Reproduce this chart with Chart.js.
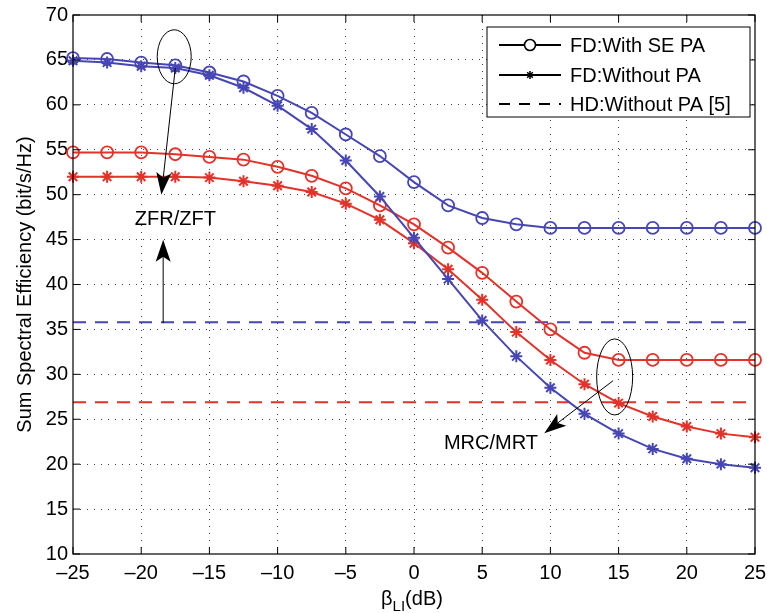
<!DOCTYPE html>
<html>
<head>
<meta charset="utf-8">
<title>Sum Spectral Efficiency vs beta_LI</title>
<script src="https://cdn.jsdelivr.net/npm/chart.js@4/dist/chart.umd.min.js"></script>
<style>
	html, body { margin: 0; padding: 0; background: #fff; }
	canvas { display: block; }
</style>
</head>
<body>
<canvas id="chart" width="767" height="613"></canvas>
<script>

//chart values
var betaLI = [-25, -22.5, -20, -17.5, -15, -12.5, -10, -7.5, -5, -2.5, 0, 2.5, 5, 7.5, 10, 12.5, 15, 17.5, 20, 22.5, 25];
var zfWithSePa = [65.2, 65.1, 64.7, 64.4, 63.6, 62.6, 61.0, 59.1, 56.7, 54.3, 51.4, 48.8, 47.4, 46.7, 46.3, 46.3, 46.3, 46.3, 46.3, 46.3, 46.3];
var zfWithoutPa = [64.9, 64.7, 64.3, 64.1, 63.3, 61.9, 59.9, 57.3, 53.8, 49.8, 45.2, 40.6, 36.0, 32.0, 28.5, 25.6, 23.4, 21.7, 20.6, 20.0, 19.6];
var mrcWithSePa = [54.7, 54.7, 54.7, 54.5, 54.2, 53.9, 53.1, 52.1, 50.7, 48.8, 46.7, 44.1, 41.3, 38.1, 35.0, 32.4, 31.6, 31.6, 31.6, 31.6, 31.6];
var mrcWithoutPa = [52.0, 52.0, 52.0, 52.0, 51.9, 51.5, 51.0, 50.3, 49.0, 47.2, 44.6, 41.7, 38.3, 34.7, 31.6, 28.9, 26.8, 25.3, 24.2, 23.4, 23.0];
var hdZfWithoutPa = 35.8;
var hdMrcWithoutPa = 26.9;

//tick labels
var xTicks = [-25, -20, -15, -10, -5, 0, 5, 10, 15, 20, 25];
var yTicks = [10, 15, 20, 25, 30, 35, 40, 45, 50, 55, 60, 65, 70];
var legendLabels = ['FD:With SE PA', 'FD:Without PA', 'HD:Without PA [5]'];

var BLUE = '#4646b4',
	RED = '#e3322a',
	FONT = '"Liberation Sans", Arial, Helvetica, sans-serif';

function toPoints( values ) {
	return betaLI.map(function( x, i ) {
		return { x: x, y: values[i] };
	});
}

function flatLine( value ) {
	return [ { x: betaLI[0], y: value }, { x: betaLI[betaLI.length - 1], y: value } ];
}

function withDash( value ) {
	//matlab style minus
	return String(value).replace('-', '\u2013');
}

function curve( values, color, marker ) {
	return {
		data: toPoints(values),
		borderColor: color,
		borderWidth: 2,
		pointStyle: marker,
		pointRadius: 6,
		pointBorderWidth: marker === 'star' ? 2 : 1.8,
		pointBorderColor: color,
		pointBackgroundColor: 'rgba(0,0,0,0)',
		tension: 0,
		clip: false
	};
}

function dashed( value, color ) {
	return {
		data: flatLine(value),
		borderColor: color,
		borderWidth: 2,
		borderDash: [13, 9],
		pointRadius: 0,
		tension: 0,
		clip: false
	};
}

function edgeGrid( ctx ) {
	var v = ctx.tick ? ctx.tick.value : null;
	var scale = ctx.scale;
	if ( v === scale.min || v === scale.max ) return 'rgba(0,0,0,0)';
	return '#444';
}

function drawArrow( ctx, x1, y1, x2, y2 ) {
	var ang = Math.atan2(y2 - y1, x2 - x1),
		len = 22, half = 7.5, notch = 17;
	ctx.beginPath();
	ctx.moveTo(x1, y1);
	ctx.lineTo(x2 - Math.cos(ang) * notch, y2 - Math.sin(ang) * notch);
	ctx.stroke();
	ctx.save();
	ctx.translate(x2, y2);
	ctx.rotate(ang);
	ctx.beginPath();
	ctx.moveTo(0, 0);
	ctx.lineTo(-len, -half);
	ctx.lineTo(-notch, 0);
	ctx.lineTo(-len, half);
	ctx.closePath();
	ctx.fill();
	ctx.restore();
}

//frame, inner ticks, titles, notes and legend
var matlabLook = {
	id: 'matlabLook',
	afterDraw: function( chart ) {
		var ctx = chart.ctx,
			area = chart.chartArea,
			xs = chart.scales.x,
			ys = chart.scales.y;

		function px( v ) { return xs.getPixelForValue(v); }
		function py( v ) { return ys.getPixelForValue(v); }

		ctx.save();
		ctx.strokeStyle = '#000';
		ctx.fillStyle = '#000';
		ctx.lineWidth = 1.2;
		ctx.setLineDash([]);

		//axes box
		ctx.strokeRect(area.left, area.top, area.right - area.left, area.bottom - area.top);

		//ticks pointing inside
		ctx.lineWidth = 1;
		ctx.beginPath();
		xTicks.forEach(function( v ) {
			var x = px(v);
			ctx.moveTo(x, area.bottom); ctx.lineTo(x, area.bottom - 7);
			ctx.moveTo(x, area.top); ctx.lineTo(x, area.top + 7);
		});
		yTicks.forEach(function( v ) {
			var y = py(v);
			ctx.moveTo(area.left, y); ctx.lineTo(area.left + 7, y);
			ctx.moveTo(area.right, y); ctx.lineTo(area.right - 7, y);
		});
		ctx.stroke();

		//y title
		ctx.save();
		ctx.translate(31, (area.top + area.bottom) / 2);
		ctx.rotate(-Math.PI / 2);
		ctx.font = '20px ' + FONT;
		ctx.textAlign = 'center';
		ctx.textBaseline = 'alphabetic';
		ctx.fillText('Sum Spectral Efficiency (bit/s/Hz)', 0, 0);
		ctx.restore();

		//x title with subscript
		ctx.textBaseline = 'alphabetic';
		ctx.textAlign = 'left';
		ctx.font = '20px ' + FONT;
		var wBeta = ctx.measureText('\u03b2').width,
			wTail = ctx.measureText('(dB)').width;
		ctx.font = '15px ' + FONT;
		var wSub = ctx.measureText('LI').width;
		var startX = (area.left + area.right) / 2 - (wBeta + wSub + wTail) / 2 - 2;
		ctx.font = '20px ' + FONT;
		ctx.fillText('\u03b2', startX, 605);
		ctx.font = '15px ' + FONT;
		ctx.fillText('LI', startX + wBeta, 611);
		ctx.font = '20px ' + FONT;
		ctx.fillText('(dB)', startX + wBeta + wSub, 605);

		//ZF note
		ctx.lineWidth = 1;
		ctx.beginPath();
		ctx.ellipse(px(-17.58), py(65.35), 17, 27, 0, 0, Math.PI * 2);
		ctx.stroke();
		drawArrow(ctx, px(-17.5), py(64.1), px(-18.52), py(50.0));
		drawArrow(ctx, px(-18.39), py(35.7), px(-18.39), py(44.97));
		ctx.font = '20px ' + FONT;
		ctx.textAlign = 'center';
		ctx.textBaseline = 'middle';
		ctx.fillText('ZFR/ZFT', px(-17.5), py(47.2));

		//MRC note
		ctx.beginPath();
		ctx.ellipse(px(14.71), py(29.71), 18, 38, 0, 0, Math.PI * 2);
		ctx.stroke();
		drawArrow(ctx, px(14.6), py(29.3), px(9.55), py(23.44));
		ctx.fillText('MRC/MRT', px(5.64), py(22.25));

		//legend
		var box = { left: 487, top: 27, right: 750, bottom: 117 },
			rows = [45, 75, 104];
		ctx.fillStyle = '#fff';
		ctx.fillRect(box.left, box.top, box.right - box.left, box.bottom - box.top);
		ctx.strokeStyle = '#000';
		ctx.lineWidth = 1;
		ctx.strokeRect(box.left, box.top, box.right - box.left, box.bottom - box.top);
		ctx.fillStyle = '#000';
		ctx.lineWidth = 2;
		rows.forEach(function( y, n ) {
			ctx.setLineDash(n === 2 ? [11, 9] : []);
			ctx.beginPath();
			ctx.moveTo(499, y);
			ctx.lineTo(561, y);
			ctx.stroke();
			ctx.setLineDash([]);
			if ( n === 0 ) {
				ctx.fillStyle = '#fff';
				ctx.beginPath();
				ctx.arc(530, y, 5.5, 0, Math.PI * 2);
				ctx.fill();
				ctx.lineWidth = 1.6;
				ctx.stroke();
				ctx.lineWidth = 2;
				ctx.fillStyle = '#000';
			}
			if ( n === 1 ) {
				ctx.lineWidth = 1.5;
				ctx.beginPath();
				for ( var k = 0; k < 4; k++ ) {
					var a = k * Math.PI / 4;
					ctx.moveTo(530 - Math.cos(a) * 4, y - Math.sin(a) * 4);
					ctx.lineTo(530 + Math.cos(a) * 4, y + Math.sin(a) * 4);
				}
				ctx.stroke();
				ctx.lineWidth = 2;
			}
			ctx.font = '20px ' + FONT;
			ctx.textAlign = 'left';
			ctx.textBaseline = 'middle';
			ctx.fillText(legendLabels[n], 570, y + 1);
		});

		ctx.restore();
	}
};

//building chart
var context = document.getElementById('chart').getContext('2d');
var chart = new Chart(context, {
	type: 'line',
	data: {
		datasets: [
			curve(zfWithSePa, BLUE, 'circle'),
			curve(zfWithoutPa, BLUE, 'star'),
			curve(mrcWithSePa, RED, 'circle'),
			curve(mrcWithoutPa, RED, 'star'),
			dashed(hdZfWithoutPa, BLUE),
			dashed(hdMrcWithoutPa, RED)
		]
	},
	options: {
		responsive: false,
		animation: false,
		devicePixelRatio: 1,
		layout: {
			padding: { left: 0, top: 15, right: 12, bottom: 0 }
		},
		plugins: {
			legend: { display: false },
			tooltip: { enabled: false }
		},
		scales: {
			x: {
				type: 'linear',
				min: -25,
				max: 25,
				afterBuildTicks: function( scale ) {
					scale.ticks = xTicks.map(function( v ) { return { value: v }; });
				},
				afterFit: function( scale ) {
					scale.height = 59;
					//keep the plot box where the reference has it
					scale.paddingLeft = 0;
					scale.paddingRight = 0;
				},
				ticks: {
					color: '#000',
					font: { family: FONT, size: 20 },
					padding: 7,
					maxRotation: 0,
					autoSkip: false,
					callback: function( value ) { return withDash(value); }
				},
				grid: {
					color: edgeGrid,
					lineWidth: 1,
					drawTicks: false
				},
				border: { display: false, dash: [1, 6] }
			},
			y: {
				type: 'linear',
				min: 10,
				max: 70,
				afterBuildTicks: function( scale ) {
					scale.ticks = yTicks.map(function( v ) { return { value: v }; });
				},
				afterFit: function( scale ) {
					scale.width = 73;
					scale.paddingTop = 0;
					scale.paddingBottom = 0;
				},
				ticks: {
					color: '#000',
					font: { family: FONT, size: 20 },
					padding: 5,
					autoSkip: false
				},
				grid: {
					color: edgeGrid,
					lineWidth: 1,
					drawTicks: false
				},
				border: { display: false, dash: [1, 6] }
			}
		}
	},
	plugins: [matlabLook]
});

</script>
</body>
</html>
